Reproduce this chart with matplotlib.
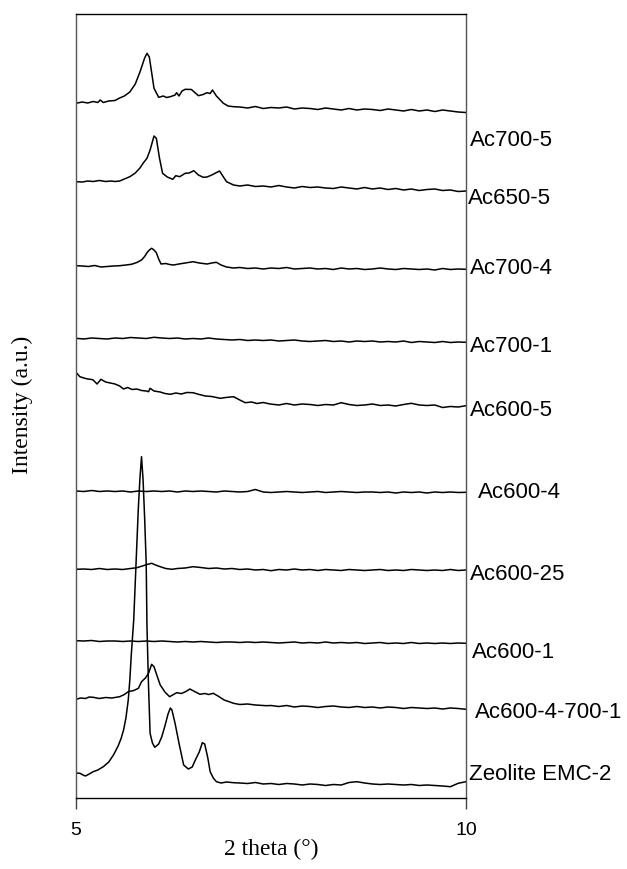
import matplotlib
matplotlib.use("Agg")
import matplotlib.pyplot as plt
import numpy as np

# 樣品名稱 (由上到下)
labels = ["Ac700-5", "Ac650-5", "Ac700-4", "Ac700-1", "Ac600-5",
          "Ac600-4", "Ac600-25", "Ac600-1", "Ac600-4-700-1", "Zeolite EMC-2"]


def tail(start):  # 平坦段的 2theta 取樣點
    return list(np.round(np.arange(start, 10.001, 0.1), 2))


full = tail(5.0)

# ---- Ac700-5 ----
x_ac700_5 = [5.00, 5.08, 5.15, 5.22, 5.28, 5.31, 5.35, 5.42, 5.50, 5.56, 5.62, 5.69, 5.76, 5.82,
             5.88, 5.91, 5.94, 6.00, 6.06, 6.12, 6.16, 6.21, 6.27, 6.29, 6.32, 6.36, 6.40, 6.48,
             6.53, 6.57, 6.63, 6.68, 6.72, 6.75, 6.80, 6.89, 6.95, 7.02] + tail(7.1)
y_ac700_5 = [694.7, 696, 695, 696.5, 695.5, 698, 695.5, 697, 697.5, 700, 702, 706, 714, 726,
             740, 744.7, 741, 709.7, 700.7, 702, 700.5, 701.3, 703, 705.3, 702, 707, 708.7, 708.5,
             705, 702.3, 703.5, 705.3, 704.5, 708, 702, 694.7, 692, 691.3,
             691, 690, 691.5, 689.5, 690.5, 690, 691, 689, 690, 689.5,
             688.5, 690, 689, 688, 689.5, 688, 689, 688.5, 687.5, 689,
             688, 687, 688.5, 687, 688, 686.5, 688, 687, 686, 685.5]

# ---- Ac650-5 ----
x_ac650_5 = [5.00, 5.08, 5.15, 5.22, 5.30, 5.38, 5.45, 5.50, 5.56, 5.62, 5.69, 5.76, 5.82, 5.86,
             5.91, 5.95, 6.00, 6.03, 6.07, 6.11, 6.17, 6.24, 6.28, 6.33, 6.40, 6.45, 6.51, 6.57,
             6.63, 6.68, 6.74, 6.79, 6.84, 6.93, 7.02] + tail(7.1)
y_ac650_5 = [616.3, 616, 617, 616.5, 617.5, 616.5, 617, 616.5, 617, 619, 621.3, 625, 630, 634.7,
             639.7, 648, 662, 659.7, 640, 624.7, 621, 618.7, 622.3, 621.3, 624.7, 625, 627.3, 623,
             620.7, 621, 623, 625, 627, 616.3, 613,
             612, 613, 611.5, 612, 611, 612.5, 611, 610, 611.5, 610.5,
             611, 610, 609.5, 611, 610, 609, 610.5, 609, 610, 608.5,
             609.5, 608, 609, 607.5, 608.5, 609, 607.5, 608, 606.5, 607]

# ---- Ac700-4 ----
x_ac700_4 = [5.00, 5.08, 5.16, 5.24, 5.32, 5.40, 5.48, 5.56, 5.64, 5.71, 5.78, 5.84, 5.88, 5.91,
             5.94, 5.97, 6.00, 6.03, 6.06, 6.09, 6.15, 6.20, 6.25, 6.32, 6.40, 6.50, 6.58, 6.68,
             6.74, 6.80, 6.86, 6.93, 7.02] + tail(7.1)
y_ac700_4 = [532.3, 532, 531.5, 532.5, 531, 531.5, 532, 532.3, 533, 533.7, 535.5, 538, 541.5, 545.3,
             548, 549.7, 548, 545.3, 539, 534, 534.5, 533.5, 533, 534, 535, 536.3, 535, 534,
             535, 535.7, 533, 531, 530,
             530.5, 529.5, 530, 529, 530, 529.5, 530.5, 529, 529.5, 530,
             529, 529.5, 528.5, 530, 529, 529.5, 528.5, 529, 530, 529,
             528.5, 529.5, 529, 528.5, 529, 528, 529.5, 528.5, 529, 528.7]

# ---- Ac700-1 ----
x_ac700_1 = full
y_ac700_1 = [459.7, 459, 460, 459.5, 459, 460, 459.5, 460.5, 460, 459.5,
             460.7, 460, 459.5, 460, 459, 459.5, 459, 460, 459, 458.5,
             458, 458.5, 457.5, 458, 457.5, 458, 457, 457.5, 458, 457,
             456.5, 457, 457.5, 456.5, 457, 456, 457, 456.5, 457, 456,
             456.5, 456, 457, 455.5, 456.5, 456, 455.5, 456.5, 455.5, 456,
             455.7]

# ---- Ac600-5 ----
x_ac600_5 = [5.00, 5.03, 5.05, 5.10, 5.15, 5.20, 5.22, 5.27, 5.32, 5.38, 5.44, 5.50, 5.56, 5.61,
             5.66, 5.72, 5.78, 5.84, 5.90, 5.93, 5.95, 6.00, 6.08, 6.14, 6.21, 6.28, 6.35, 6.42,
             6.50, 6.58, 6.66, 6.74, 6.80, 6.85, 6.92, 7.02, 7.10, 7.17, 7.25, 7.32, 7.40, 7.49,
             7.60] + tail(7.7)
y_ac600_5 = [425.7, 423, 421.3, 420, 419, 418.5, 418, 414, 418.7, 416, 415, 414, 412, 409,
             410.5, 408.5, 409, 407.5, 407, 406.3, 409.7, 407, 406, 404.5, 403.7, 405, 404, 405.5,
             405.3, 403.5, 402, 401.5, 400.5, 399.7, 400.5, 401.3, 398, 395.3, 396, 394.5, 395.5, 394,
             393,
             394.5, 393, 394, 393.5, 392.5, 393.5, 393, 395.3, 393.5, 392.5, 393, 394,
             392.5, 393, 392, 393.5, 394.7, 393, 392.5, 393, 390.5, 391.5, 391, 392.3]

# ---- Ac600-4 ----
x_ac600_4 = full
y_ac600_4 = [307, 306.5, 307.5, 306.5, 307, 306.5, 307, 306, 307, 306.5,
             307, 306.5, 307, 306, 307, 306.5, 307, 306.5, 306, 307,
             306.5, 306, 306.5, 308.5, 306, 305.5, 306, 306.5, 306, 305.5,
             306, 306.5, 305.5, 306, 306.5, 306, 305.5, 306, 306, 305.5,
             306, 305, 306, 305.5, 306, 305, 306, 305.5, 306, 305.5,
             305.7]

# ---- Ac600-25 ----
x_ac600_25 = [5.00, 5.10, 5.20, 5.30, 5.40, 5.50, 5.60, 5.70, 5.78, 5.85, 5.91, 5.97, 6.02, 6.08,
              6.15, 6.23, 6.30, 6.40, 6.50, 6.60, 6.70, 6.80, 6.90, 7.00] + tail(7.1)
y_ac600_25 = [228.7, 229, 228.5, 229.5, 228.5, 229, 228.5, 229.5, 230.3, 232, 233.5, 234.7, 233, 231.3,
              229.5, 228.7, 229.5, 230, 231.3, 230.5, 229.5, 230, 229, 229.5,
              228.5, 229, 228, 228.5, 227.3, 228.5, 228, 229, 228, 228.5,
              227.5, 228.5, 228, 227.5, 228.5, 228, 227.5, 228, 228.5, 227.5,
              228, 227.5, 228.5, 228, 227.5, 228, 227.5, 228.5, 227.5, 228]

# ---- Ac600-1 ----
x_ac600_1 = full
y_ac600_1 = [157.3, 157, 157.5, 156.5, 157, 157, 156.5, 157, 156.5, 157,
             156.5, 157, 156.5, 156, 156.5, 156, 156.5, 156, 155.5, 156,
             156, 155.5, 156, 155.5, 156, 155.5, 155, 155.5, 156, 155,
             155.5, 155, 156, 155, 155.5, 155, 155.5, 154.5, 155, 155.5,
             154.5, 155, 154.5, 155.5, 154.5, 155, 154.5, 155, 154.5, 155,
             154.7]

# ---- Ac600-4-700-1 ----
x_ac600_4_700_1 = [5.00, 5.06, 5.12, 5.17, 5.22, 5.30, 5.38, 5.46, 5.56, 5.62, 5.67, 5.74, 5.80,
                   5.84, 5.89, 5.93, 5.97, 6.00, 6.04, 6.08, 6.14, 6.20, 6.25, 6.29, 6.35, 6.41,
                   6.46, 6.52, 6.59, 6.65, 6.70, 6.76, 6.82, 6.90, 7.02, 7.10, 7.20, 7.30, 7.44] + tail(7.5)
y_ac600_4_700_1 = [98.7, 100, 99.5, 101, 100.7, 99.5, 100.5, 100, 101.3, 103.5, 106.3, 107.5, 109.7,
                   116.3, 120, 124.7, 133.7, 131.3, 122, 113, 106, 101.3, 103.5, 105.3, 104.5, 106.5,
                   109, 106.5, 103.7, 104.5, 103.5, 104.7, 102, 98, 94.7, 93.5, 94, 93, 92.3,
                   92.5, 91.5, 92.5, 91, 92, 91.5, 90.5, 91.5, 92, 91,
                   90.5, 91.5, 90.5, 91, 90, 91, 90.5, 89.5, 90.5, 90,
                   89.5, 90, 89, 90, 89.5, 88.7]

# ---- Zeolite EMC-2 ----
x_emc2 = [5.00, 5.05, 5.09, 5.12, 5.17, 5.22, 5.28, 5.35, 5.42, 5.48, 5.54, 5.58, 5.61, 5.64,
          5.67, 5.69, 5.71, 5.74, 5.77, 5.80, 5.82, 5.84, 5.86, 5.88, 5.90, 5.91, 5.93, 5.95,
          5.98, 6.01, 6.06, 6.10, 6.14, 6.18, 6.21, 6.23, 6.27, 6.32, 6.38, 6.44, 6.49, 6.53,
          6.58, 6.62, 6.65, 6.69, 6.72, 6.76, 6.80, 6.86, 6.93, 7.02] + tail(7.1)
y_emc2 = [25, 24.7, 23, 22, 24, 26.3, 28, 31.3, 36, 43, 52, 60, 68, 80,
          98, 118, 144.7, 178, 235, 291.3, 320, 341.3, 318, 280, 234.7, 171.3, 111.3, 64.7,
          55, 50.7, 54, 61.3, 72, 84, 90, 88, 74.7, 55, 33, 29, 31, 38,
          46, 55.3, 54, 40, 26.3, 20, 16.3, 15, 16, 15.3,
          15, 14.5, 15.5, 14, 14.5, 13.5, 14.5, 14, 13, 14,
          13.5, 12.5, 13.5, 13, 15.5, 16.3, 15, 14, 13.5, 14,
          13.5, 13, 13.5, 12.5, 13, 12.5, 12, 11.3, 14.7, 16.3]

xs = [x_ac700_5, x_ac650_5, x_ac700_4, x_ac700_1, x_ac600_5,
      x_ac600_4, x_ac600_25, x_ac600_1, x_ac600_4_700_1, x_emc2]
ys = [y_ac700_5, y_ac650_5, y_ac700_4, y_ac700_1, y_ac600_5,
      y_ac600_4, y_ac600_25, y_ac600_1, y_ac600_4_700_1, y_emc2]

# 標籤位置 (右側, 軸外)
label_x = [10.05, 10.03, 10.05, 10.05, 10.05, 10.15, 10.05, 10.08, 10.11, 10.04]
label_y = [658, 600, 530, 452, 388, 306, 224, 146, 86, 24]

fig = plt.figure(figsize=(6.27, 8.69), dpi=100)
ax = fig.add_axes([76 / 627, 71 / 869, 390 / 627, 784 / 869])

for x, y in zip(xs, ys):
    ax.plot(x, y, color='black', linewidth=1.1)

for lab, lx, ly in zip(labels, label_x, label_y):
    ax.text(lx, ly, lab, fontsize=16, family='Liberation Sans',
            ha='left', va='center', clip_on=False)

ax.set_xlim(5, 10)
ax.set_ylim(0, 784)
ax.set_xticks([5, 10])
ax.set_xticklabels(['5', '10'], fontsize=14, family='Liberation Sans')
ax.set_yticks([])
ax.tick_params(axis='x', direction='out', length=8, width=1, pad=9, color='#444444')

for s in ['left', 'right']:
    ax.spines[s].set_color('#555555')
for s in ax.spines.values():
    s.set_linewidth(1.0)

# 軸標題
ax.set_xlabel('2 theta (°)', fontsize=17, family='Liberation Serif')
ax.xaxis.set_label_coords(0.5, -0.052)
ax.set_ylabel('Intensity (a.u.)', fontsize=17, family='Liberation Serif', va='center')
ax.yaxis.set_label_coords(-0.138, 0.501)

plt.savefig('out.png', dpi=100)
